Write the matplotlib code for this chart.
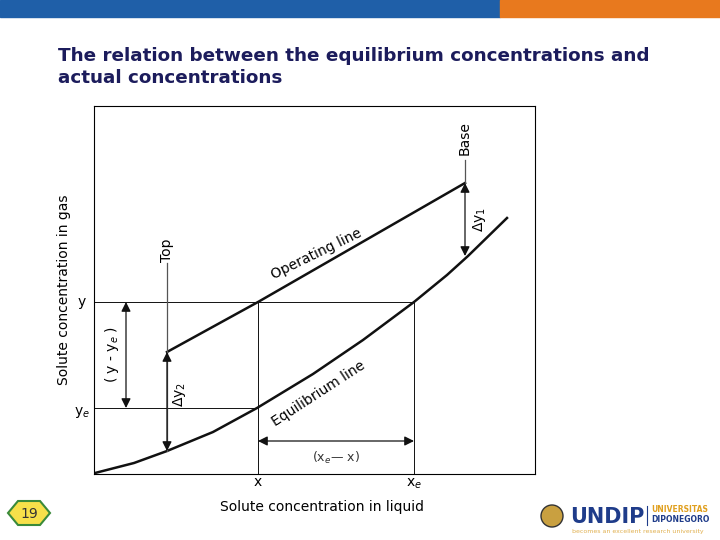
import matplotlib; matplotlib.use("Agg")
import matplotlib.pyplot as plt
import numpy as np

W, H = 720, 540
# diagram coordinates (arbitrary units, x right, y up)
eq_x = [1, 40, 73, 119, 163, 219, 269, 320, 353, 374, 413]
eq_y = [1, 11, 23, 42, 66, 100, 134, 172, 199, 218, 256]
op_x = [73, 164, 371]
op_y = [122, 172, 291]
x_pt, xe_pt = 164, 320
y_pt, ye_pt = 172, 66
top_x, base_x = 73, 371
ye_arrow_x = 32
dx_arrow_y = 33

fig = plt.figure(figsize=(W/100, H/100), dpi=100)
bg = fig.add_axes([0, 0, 1, 1]); bg.set_xlim(0, W); bg.set_ylim(H, 0); bg.axis("off")
bg.add_patch(plt.Rectangle((0, 0), 500, 17, color="#1f5fa8"))
bg.add_patch(plt.Rectangle((500, 0), 220, 17, color="#e8791e"))
bg.text(58, 67, "The relation between the equilibrium concentrations and\nactual concentrations",
        fontsize=13.2, fontweight="bold", color="#1c1c5c", va="center", linespacing=1.35,
        family="DejaVu Sans")
bg.add_patch(plt.Polygon([(8, 513), (18, 501), (40, 501), (50, 513), (40, 525), (18, 525)],
                         facecolor="#f7e04a", edgecolor="#3a8a3a", lw=1.5))
bg.text(29, 514, "19", ha="center", va="center", fontsize=10, color="#333")
bg.add_patch(plt.Circle((552, 516), 11, facecolor="#c9a040", edgecolor="#333", lw=1))
bg.text(570, 517, "UNDIP", fontsize=15, fontweight="bold", color="#1f3c8a", va="center")
bg.plot([647, 647], [506, 525], color="#1f3c8a", lw=0.8)
bg.text(651, 510, "UNIVERSITAS", fontsize=5.5, fontweight="bold", color="#e0a020", va="center")
bg.text(651, 519, "DIPONEGORO", fontsize=5.5, fontweight="bold", color="#1f3c8a", va="center")
bg.text(572, 532, "becomes an excellent research university", fontsize=4.5, color="#e0b050", va="center")

ax = fig.add_axes([94/W, 1-474/H, 441/W, 368/H])
ax.set_xlim(0, 441); ax.set_ylim(0, 368)
ax.set_xticks([]); ax.set_yticks([])
for s in ax.spines.values(): s.set_linewidth(0.8)

k = "#111"
ax.plot(eq_x, eq_y, color=k, lw=1.8)
ax.plot(op_x, op_y, color=k, lw=1.8)
ax.plot([0, xe_pt], [y_pt, y_pt], color=k, lw=0.7)
ax.plot([0, x_pt], [ye_pt, ye_pt], color=k, lw=0.7)
ax.plot([x_pt, x_pt], [0, y_pt], color=k, lw=0.7)
ax.plot([xe_pt, xe_pt], [0, y_pt], color=k, lw=0.7)
ax.plot([top_x, top_x], [eq_y[2], 211], color="#555", lw=0.9)
ax.plot([base_x, base_x], [op_y[2], 314], color="#555", lw=0.9)

def darrow(p, q):
    ax.annotate("", xy=p, xytext=q, arrowprops=dict(arrowstyle="<|-|>", color=k, lw=0.9,
                mutation_scale=14, shrinkA=0, shrinkB=0))

darrow((top_x, op_y[0]), (top_x, eq_y[2]))
darrow((base_x, op_y[2]), (base_x, eq_y[9]))
darrow((ye_arrow_x, y_pt), (ye_arrow_x, ye_pt))
darrow((x_pt, dx_arrow_y), (xe_pt, dx_arrow_y))

ax.text(top_x, 224, "Top", rotation=90, ha="center", va="center", fontsize=10)
ax.text(base_x, 336, "Base", rotation=90, ha="center", va="center", fontsize=10)
ax.text(top_x+12, 80, r"$\Delta$y$_2$", rotation=90, ha="center", va="center", fontsize=10)
ax.text(base_x+14, 255, r"$\Delta$y$_1$", rotation=90, ha="center", va="center", fontsize=10)
ax.text(18, 120, r"( y - y$_e$ )", rotation=90, ha="center", va="center", fontsize=10)
ax.text(242, 16, r"(x$_e$— x)", ha="center", va="center", fontsize=9, color="#333")
ax.text(175, 220, "Operating line", rotation=26, ha="left", va="center", fontsize=10)
ax.text(175, 80, "Equilibrium line", rotation=33, ha="left", va="center", fontsize=10)
ax.text(x_pt, -8, "x", ha="center", va="center", fontsize=10, clip_on=False)
ax.text(xe_pt, -10, r"x$_e$", ha="center", va="center", fontsize=10, clip_on=False)
ax.text(-12, y_pt, "y", ha="center", va="center", fontsize=10, clip_on=False)
ax.text(-12, ye_pt-4, r"y$_e$", ha="center", va="center", fontsize=10, clip_on=False)
ax.text(228, -33, "Solute concentration in liquid", ha="center", va="center", fontsize=10, clip_on=False)
ax.text(-30, 184, "Solute concentration in gas", rotation=90, ha="center", va="center", fontsize=10, clip_on=False)

fig.savefig("out.png", dpi=100, facecolor="white")
